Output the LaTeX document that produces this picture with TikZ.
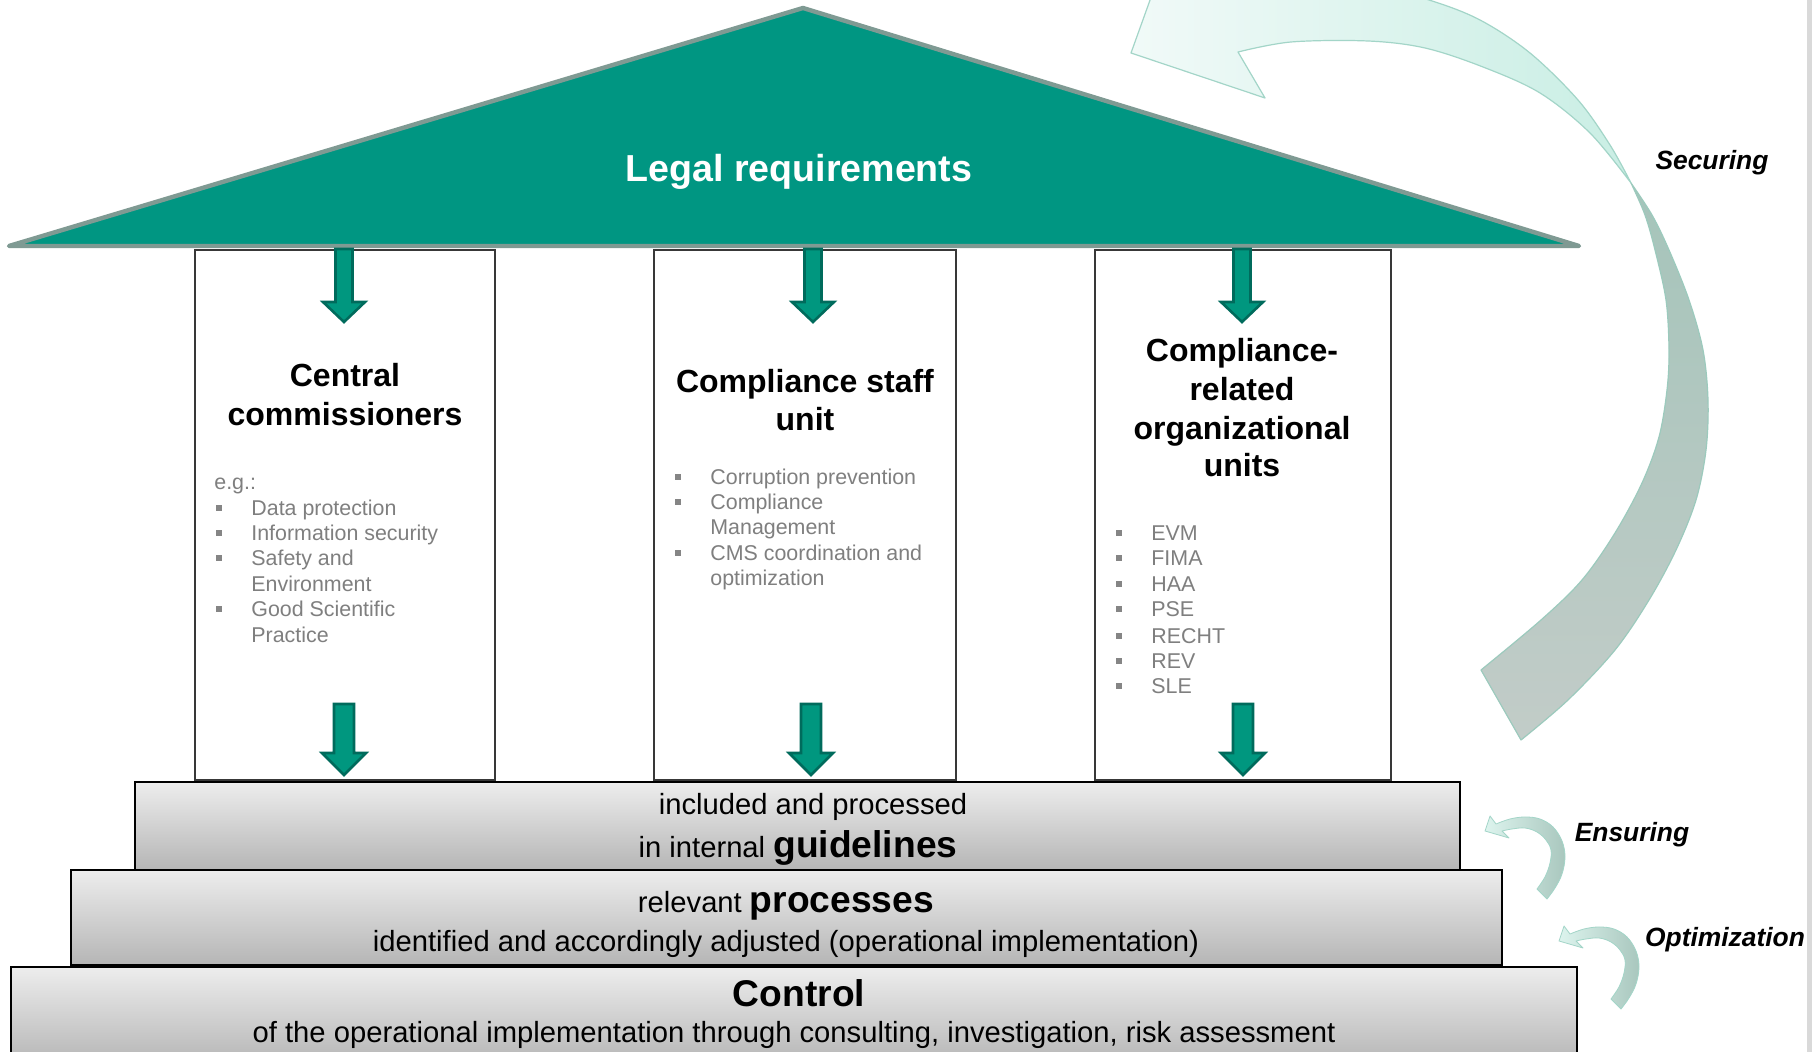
\documentclass[tikz,border=0pt]{standalone}
\usepackage{fontspec}
\setmainfont{Liberation Sans}
\definecolor{roofgreen}{HTML}{009682}
\definecolor{roofedge}{HTML}{7F9A93}
\definecolor{arrowfill}{HTML}{00977F}
\definecolor{arrowedge}{HTML}{006B5C}
\definecolor{listgray}{HTML}{7F7F7F}
\definecolor{bulletgray}{HTML}{858585}
\definecolor{stripgray}{HTML}{D9D9D9}
\definecolor{biglight}{HTML}{F1FAF8}
\definecolor{bigmint}{HTML}{C9EEE4}
\definecolor{mintedge}{HTML}{A3D5C8}
\definecolor{sagetop}{HTML}{A5C4BA}
\definecolor{sagebot}{HTML}{C2CCC8}
\definecolor{sageedge}{HTML}{9CCABD}
\definecolor{smlight}{HTML}{DDF4EE}
\definecolor{smdark}{HTML}{A9C7BE}
\newcommand\garrow[6]{% x, top, headbase, tip, shaft width, head width
  \draw[garrowstyle] ({#1-#5/2},#2) -- ({#1+#5/2},#2) -- ({#1+#5/2},#3) -- ({#1+#6/2},#3)
    -- (#1,#4) -- ({#1-#6/2},#3) -- ({#1-#5/2},#3) -- cycle;}
\newcommand\bitem[4]{% name, bullet x, baseline, text
  \fill[bulletgray] ({#2-3},{#3-11}) rectangle ({#2+3},{#3-5});
  \node[lst] (#1) at ({#2+32},#3) {#4};}
\newcommand\smallarr{%
  \shade[left color=smlight, right color=smdark, draw=mintedge, line width=0.4pt, line join=round]
   (1485,831) -- (1490,816) -- (1496,824)
   -- plot[smooth, tension=0.6] coordinates {(1496,824) (1510,819) (1525,817) (1540,819) (1553,827) (1562,841) (1565,857) (1562,874) (1555,888) (1547,899)}
   -- plot[smooth, tension=0.6] coordinates {(1537,889) (1545,877) (1550,863) (1551,850) (1546,840) (1537,832) (1525,828) (1512,829) (1502,831)}
   -- (1509,838) -- cycle;}
\begin{document}
\begin{tikzpicture}[x=0.5pt,y=-0.5pt,
  pillarbox/.style={draw=black!78, line width=0.8pt, fill=white},
  stepbox/.style={draw=black, line width=1pt, top color=black!7, bottom color=black!29},
  garrowstyle/.style={fill=arrowfill, draw=arrowedge, line width=1.3pt, line join=miter},
  ttl/.style={font=\bfseries\fontsize{16pt}{19pt}\selectfont, anchor=base, inner sep=0pt},
  lst/.style={font=\fontsize{10.7pt}{12.8pt}\selectfont, text=listgray, anchor=base west, inner sep=0pt},
  stp/.style={font=\fontsize{14.6pt}{17.5pt}\selectfont, anchor=base, inner sep=0pt},
  lbl/.style={font=\bfseries\itshape\fontsize{13.2pt}{16pt}\selectfont, anchor=base, inner sep=0pt},
  big/.style={font=\bfseries\fontsize{18.6pt}{22pt}\selectfont, anchor=base, inner sep=0pt}]
\clip (0,0) rectangle (1812,1052);
\fill[white] (0,0) rectangle (1812,1052);
\fill[stripgray] (1807,0) rectangle (1812,1052);

% big securing arrow
\shade[left color=biglight, right color=bigmint, draw=mintedge, line width=0.6pt, line join=round]
 (1131,53) -- (1265,98) -- (1238,52)
 -- plot[smooth, tension=0.55] coordinates {(1238,52) (1291,42) (1368,41) (1425,48) (1483,67) (1540,93) (1590,133) (1631,183)}
 -- plot[smooth, tension=0.55] coordinates {(1631,183) (1610,145) (1578,100) (1530,53) (1480,20) (1429,0) (1360,-18) (1280,-26) (1193,-25)}
 -- (1172,-61) -- cycle;
\shade[top color=sagetop, bottom color=sagebot, draw=sageedge, line width=0.6pt, line join=round]
 plot[smooth, tension=0.55] coordinates {(1631,183) (1652,215) (1669,250) (1689,300) (1703,350) (1708,400) (1706,450) (1696,500) (1676,550) (1649,600) (1615,650) (1568,700) (1521,740)}
 -- plot[smooth, tension=0.55] coordinates {(1481,670) (1541,620) (1582,580) (1615,533) (1642,483) (1659,437) (1667,390) (1669,350) (1666,300) (1655,250) (1645,215) (1631,183)}
 -- cycle;

% small arrows
\smallarr
\begin{scope}[shift={(74,110)}]
\smallarr
\end{scope}

% roof
\filldraw[fill=roofgreen, draw=roofedge, line width=2.2pt, line join=round] (9,246) -- (803,8) -- (1579,246) -- cycle;
\node[font=\bfseries\fontsize{18.8pt}{22pt}\selectfont, text=white, anchor=base, inner sep=0pt] (legal) at (799,182) {Legal requirements};

% pillars
\path[pillarbox] (195,250) rectangle (495,780);
\path[pillarbox] (654,250) rectangle (956,780);
\path[pillarbox] (1095,250) rectangle (1391,780);

% green arrows
\garrow{344}{249}{302}{322}{17}{42}
\garrow{813}{249}{302}{322}{17}{42}
\garrow{1242}{249}{302}{322}{17}{42}
\garrow{344}{704}{753}{775}{20}{44}
\garrow{811}{704}{753}{775}{20}{44}
\garrow{1243}{704}{753}{775}{20}{44}

% pillar titles
\node[ttl] (t1a) at (345,387) {Central};
\node[ttl] (t1b) at (345,426) {commissioners};
\node[ttl] (t2a) at (805,393) {Compliance staff};
\node[ttl] (t2b) at (805,431) {unit};
\node[ttl] (t3a) at (1242,362) {Compliance-};
\node[ttl] (t3b) at (1242,401) {related};
\node[ttl] (t3c) at (1242,440) {organizational};
\node[ttl] (t3d) at (1242,477) {units};

% lists
\node[lst] (eg) at (214,490) {e.g.:};
\bitem{l1a}{219}{516}{Data protection}
\bitem{l1b}{219}{541}{Information security}
\bitem{l1c}{219}{566}{Safety and}
\node[lst] (l1d) at (251,592) {Environment};
\bitem{l1e}{219}{617}{Good Scientific}
\node[lst] (l1f) at (251,643) {Practice};

\bitem{l2a}{678}{485}{Corruption prevention}
\bitem{l2b}{678}{510}{Compliance}
\node[lst] (l2c) at (710,535) {Management};
\bitem{l2d}{678}{561}{CMS coordination and}
\node[lst] (l2e) at (710,586) {optimization};

\bitem{l3a}{1119}{541}{EVM}
\bitem{l3b}{1119}{566}{FIMA}
\bitem{l3c}{1119}{592}{HAA}
\bitem{l3d}{1119}{617}{PSE}
\bitem{l3e}{1119}{644}{RECHT}
\bitem{l3f}{1119}{669}{REV}
\bitem{l3g}{1119}{694}{SLE}

% steps
\path[stepbox] (11,967) rectangle (1577,1065);
\path[stepbox] (71,870) rectangle (1502,965);
\path[stepbox] (135,782) rectangle (1460,870);

\node[stp] (g1) at (813,815) {included and processed};
\node[stp] (g2) at (798,858) {in internal {\bfseries\fontsize{18.6pt}{22pt}\selectfont guidelines}};
\node[stp] (p1) at (786,913) {relevant {\bfseries\fontsize{18.6pt}{22pt}\selectfont processes}};
\node[stp] (p2) at (786,952) {identified and accordingly adjusted (operational implementation)};
\node[big] (c1) at (799,1007) {Control};
\node[stp] (c2) at (794,1043) {of the operational implementation through consulting, investigation, risk assessment};

% labels
\node[lbl] (sec) at (1712,170) {Securing};
\node[lbl] (ens) at (1632,842) {Ensuring};
\node[lbl] (opt) at (1725,947) {Optimization};
\end{tikzpicture}
\end{document}
